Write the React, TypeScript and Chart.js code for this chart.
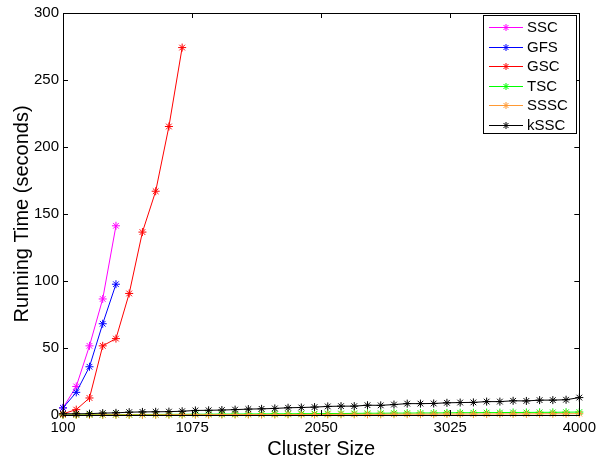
import React, { useEffect, useRef } from "react";
import { Chart, registerables } from "chart.js";

Chart.register(...registerables);

// Cluster sizes (x values)
const clusterSizes = [
  100, 200, 300, 400, 500, 600, 700, 800, 900, 1000,
  1100, 1200, 1300, 1400, 1500, 1600, 1700, 1800, 1900, 2000,
  2100, 2200, 2300, 2400, 2500, 2600, 2700, 2800, 2900, 3000,
  3100, 3200, 3300, 3400, 3500, 3600, 3700, 3800, 3900, 4000,
];

const xTickValues = [100, 1075, 2050, 3025, 4000];
const yTickValues = [0, 50, 100, 150, 200, 250, 300];

const sscTimes = [5.3, 21.3, 51.6, 86.6, 141.2];
const gfsTimes = [5.3, 16.9, 36.0, 68.1, 97.6];
const gscTimes = [0.9, 4.0, 12.7, 51.6, 57.0, 90.7, 136.5, 167.0, 215.3, 274.2];
const tscTimes = [
  0.1, 0.1, 0.2, 0.2, 0.3, 0.3, 0.4, 0.4, 0.5, 0.5,
  0.6, 0.6, 0.7, 0.7, 0.8, 0.8, 0.9, 0.9, 1.0, 1.0,
  1.1, 1.1, 1.2, 1.3, 1.3, 1.4, 1.4, 1.5, 1.5, 1.6,
  1.7, 1.7, 1.8, 1.8, 1.9, 1.9, 2.0, 2.0, 2.1, 2.2,
];
const ssscTimes = [
  0.0, 0.0, 0.0, 0.1, 0.1, 0.1, 0.1, 0.1, 0.2, 0.2,
  0.2, 0.2, 0.3, 0.3, 0.3, 0.3, 0.3, 0.4, 0.4, 0.4,
  0.4, 0.5, 0.5, 0.5, 0.5, 0.6, 0.6, 0.6, 0.6, 0.7,
  0.7, 0.7, 0.7, 0.8, 0.8, 0.8, 0.9, 0.9, 0.9, 1.0,
];
const kSscTimes = [
  0.9, 0.9, 1.0, 1.4, 1.6, 2.1, 2.3, 2.4, 2.5, 2.8,
  3.4, 3.5, 3.7, 4.0, 4.4, 4.6, 4.9, 5.4, 5.6, 5.9,
  6.4, 6.6, 6.6, 7.3, 7.2, 7.8, 8.5, 8.5, 8.6, 9.1,
  9.3, 9.4, 10.0, 10.0, 10.6, 10.5, 11.1, 11.1, 11.4, 13.0,
];

const seriesNames = ["SSC", "GFS", "GSC", "TSC", "SSSC", "kSSC"];
const seriesColors = ["#ff00ff", "#0000ff", "#ff0000", "#00ff00", "#ff9933", "#000000"];
const seriesValues = [sscTimes, gfsTimes, gscTimes, tscTimes, ssscTimes, kSscTimes];

const FONT = "'Liberation Sans', Arial, Helvetica, sans-serif";

function drawStar(ctx: CanvasRenderingContext2D, x: number, y: number, r: number) {
  const d = r * Math.SQRT1_2;
  ctx.beginPath();
  ctx.moveTo(x - r, y);
  ctx.lineTo(x + r, y);
  ctx.moveTo(x, y - r);
  ctx.lineTo(x, y + r);
  ctx.moveTo(x - d, y - d);
  ctx.lineTo(x + d, y + d);
  ctx.moveTo(x - d, y + d);
  ctx.lineTo(x + d, y - d);
  ctx.stroke();
}

const framePlugin = {
  id: "matlabFrame",
  afterDraw(chart: any) {
    const ctx: CanvasRenderingContext2D = chart.ctx;
    const { left, right, top, bottom } = chart.chartArea;
    const xs = chart.scales.x;
    const ys = chart.scales.y;
    ctx.save();
    ctx.strokeStyle = "#000";
    ctx.lineWidth = 1;
    ctx.strokeRect(Math.round(left) + 0.5, Math.round(top) + 0.5, Math.round(right - left), Math.round(bottom - top));
    const tl = 5;
    ctx.beginPath();
    for (const v of xTickValues) {
      const px = Math.round(xs.getPixelForValue(v)) + 0.5;
      ctx.moveTo(px, bottom);
      ctx.lineTo(px, bottom - tl);
      ctx.moveTo(px, top);
      ctx.lineTo(px, top + tl);
    }
    for (const v of yTickValues) {
      const py = Math.round(ys.getPixelForValue(v)) + 0.5;
      ctx.moveTo(left, py);
      ctx.lineTo(left + tl, py);
      ctx.moveTo(right, py);
      ctx.lineTo(right - tl, py);
    }
    ctx.stroke();

    // legend box
    const bx = 483.5, by = 15.5, bw = 93, bh = 118;
    ctx.fillStyle = "#fff";
    ctx.fillRect(bx, by, bw, bh);
    ctx.strokeRect(bx, by, bw, bh);
    ctx.font = `15px ${FONT}`;
    ctx.textBaseline = "middle";
    ctx.textAlign = "left";
    seriesNames.forEach((name, i) => {
      const cy = 27 + i * 19.5;
      ctx.strokeStyle = seriesColors[i];
      ctx.lineWidth = 1;
      ctx.beginPath();
      ctx.moveTo(489, Math.round(cy) + 0.5);
      ctx.lineTo(523, Math.round(cy) + 0.5);
      ctx.stroke();
      drawStar(ctx, 506, Math.round(cy) + 0.5, 3.5);
      ctx.fillStyle = "#000";
      ctx.fillText(name, 527, cy + 1);
    });
    ctx.restore();
  },
};

export default function App() {
  const canvasRef = useRef<HTMLCanvasElement | null>(null);

  useEffect(() => {
    document.body.style.margin = "0";
    const canvas = canvasRef.current;
    if (!canvas) return;
    const datasets = seriesNames.map((name, i) => ({
      label: name,
      data: seriesValues[i].map((v, j) => ({ x: clusterSizes[j], y: v })),
      borderColor: seriesColors[i],
      backgroundColor: seriesColors[i],
      borderWidth: 1,
      pointStyle: "star" as const,
      pointRadius: 4,
      pointBorderWidth: 1,
      pointBorderColor: seriesColors[i],
      fill: false,
      tension: 0,
      clip: false as any,
      order: seriesNames.length - i,
    }));
    const chart = new Chart(canvas, {
      type: "line",
      data: { datasets },
      plugins: [framePlugin],
      options: {
        animation: false,
        responsive: false,
        maintainAspectRatio: false,
        layout: { padding: { top: 9, right: 19, left: 0, bottom: 0 } },
        plugins: { legend: { display: false }, tooltip: { enabled: false } },
        scales: {
          x: {
            type: "linear",
            min: 100,
            max: 4000,
            afterBuildTicks: (scale: any) => {
              scale.ticks = xTickValues.map((v) => ({ value: v }));
            },
            afterFit: (scale: any) => {
              scale.height = 44;
            },
            grid: { display: false, drawTicks: false },
            border: { display: false },
            ticks: {
              color: "#000",
              font: { family: FONT, size: 15 },
              padding: 4,
              maxRotation: 0,
              autoSkip: false,
              callback: (v: any) => String(v),
            },
            title: {
              display: true,
              text: "Cluster Size",
              color: "#000",
              font: { family: FONT, size: 20, lineHeight: 1 },
              padding: { top: 0, bottom: 0 },
            },
          },
          y: {
            min: 0,
            max: 300,
            afterBuildTicks: (scale: any) => {
              scale.ticks = yTickValues.map((v) => ({ value: v }));
            },
            afterFit: (scale: any) => {
              scale.width = 63;
            },
            grid: { display: false, drawTicks: false },
            border: { display: false },
            ticks: {
              color: "#000",
              font: { family: FONT, size: 15 },
              padding: 4,
              callback: (v: any) => String(v),
            },
            title: {
              display: true,
              text: "Running Time (seconds)",
              color: "#000",
              font: { family: FONT, size: 20, lineHeight: 1 },
              padding: { top: 12, bottom: 0 },
            },
          },
        },
      },
    });
    return () => chart.destroy();
  }, []);

  return (
    <div style={{ position: "absolute", left: 0, top: 0, width: 600, height: 459 }}>
      <canvas ref={canvasRef} width={600} height={459} />
    </div>
  );
}
